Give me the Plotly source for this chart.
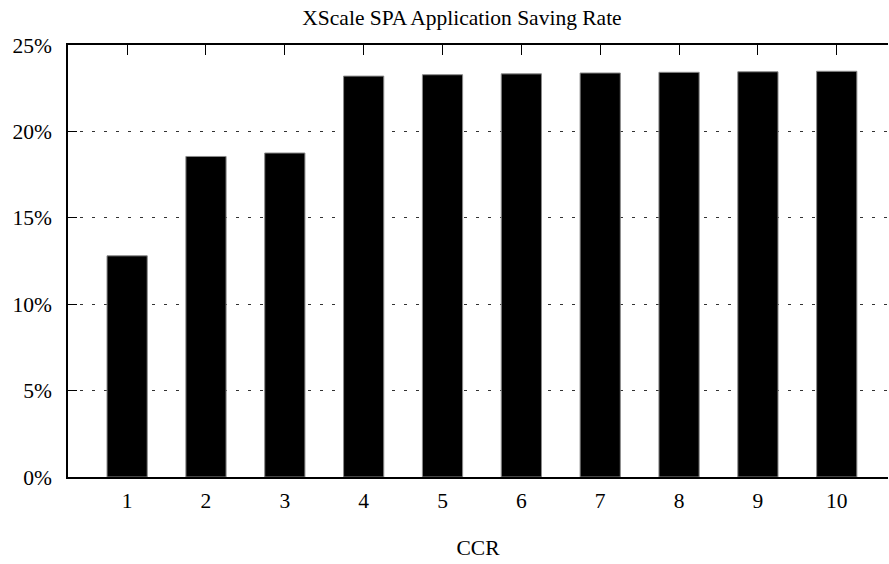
import plotly.graph_objects as go

categories = [1, 2, 3, 4, 5, 6, 7, 8, 9, 10]
saving_rate = [12.8, 18.55, 18.75, 23.2, 23.28, 23.33, 23.38, 23.42, 23.45, 23.48]
y_ticks = [0, 5, 10, 15, 20, 25]
y_tick_labels = ["0%", "5%", "10%", "15%", "20%", "25%"]

FONT = "Liberation Serif, Times New Roman, serif"
FS = 21.5

fig = go.Figure()
fig.add_trace(go.Bar(
    x=categories, y=saving_rate, width=0.51,
    marker=dict(color="black", line=dict(color="#8a8a8a", width=1)),
))

fig.update_layout(
    width=889, height=564,
    margin=dict(l=68, r=1, t=45, b=87),
    paper_bgcolor="white", plot_bgcolor="white",
    showlegend=False,
    font=dict(family=FONT, size=FS, color="black"),
    title=dict(text="XScale SPA Application Saving Rate", x=462/889, xref="container",
               xanchor="center", y=1 - 17/564, yref="container", yanchor="middle",
               font=dict(family=FONT, size=FS, color="black")),
)
fig.update_xaxes(
    range=[0.25, 10.65], tickvals=categories, ticktext=[str(c) for c in categories],
    showgrid=False, zeroline=False,
    showline=True, linecolor="black", linewidth=1.5, mirror="ticks",
    ticks="inside", ticklen=10, tickcolor="black", tickwidth=1,
    layer="below traces", ticklabelstandoff=3,
    tickfont=dict(family=FONT, size=FS),
    title=dict(text="CCR", standoff=28, font=dict(family=FONT, size=FS)),
)
fig.update_yaxes(
    range=[0, 25], tickvals=y_ticks, ticktext=y_tick_labels,
    showgrid=True, gridcolor="#333", gridwidth=1, griddash="3px,9px",
    zeroline=False, showline=True, linecolor="black", linewidth=1.5, mirror=False,
    ticks="inside", ticklen=9, tickcolor="black", tickwidth=1,
    ticklabelstandoff=10, tickfont=dict(family=FONT, size=FS),
)

fig.write_html("out.html")
